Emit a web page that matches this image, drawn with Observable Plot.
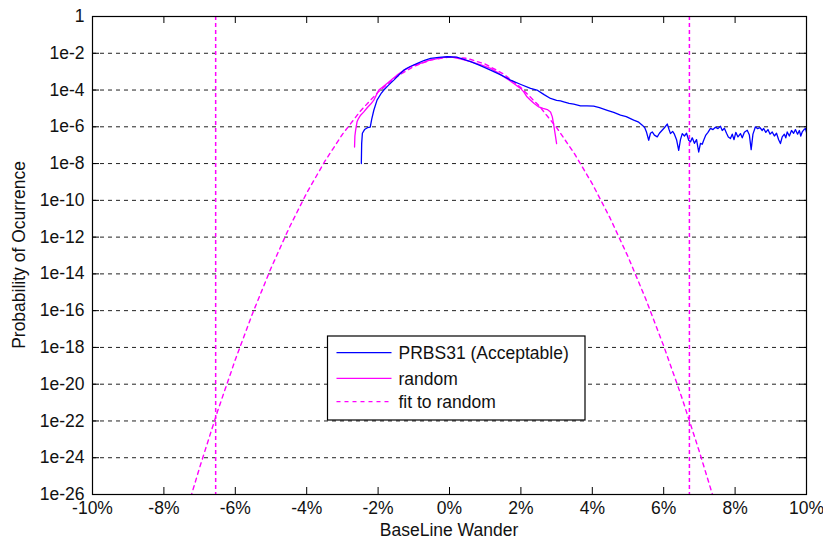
<!DOCTYPE html>
<html>
<head>
<meta charset="utf-8">
<script src="https://cdn.jsdelivr.net/npm/d3@7"></script>
<script src="https://cdn.jsdelivr.net/npm/@observablehq/plot@0.6"></script>
<style>
  html, body { margin: 0; padding: 0; background: #fff; }
  #chart { width: 823px; height: 543px; }
</style>
</head>
<body>
<div id="chart"></div>
<script>
// ---- data (x in %, y as log10 of probability) ----
const prbsX = [-2.47,-2.46,-2.44,-2.38,-2.30,-2.22,-2.18,-2.12,-2.03,-1.92,-1.84,-1.70,-1.56,-1.42,-1.28,-1.10,-0.90,-0.70,-0.53,-0.30,-0.06,0.20,0.40,0.59,0.85,1.15,1.45,1.71,2.00,2.27,2.45,2.65,2.83,3.00,3.11,3.20,3.35,3.48,3.67,3.85,4.04,4.20,4.42,4.60,4.79,4.95,5.16,5.30,5.40,5.47,5.52,5.58,5.63,5.68,5.74,5.82,5.88,5.95,6.02,6.10,6.15,6.19,6.25,6.30,6.36,6.42,6.47,6.52,6.58,6.64,6.70,6.75,6.80,6.86,6.92,6.98,7.03,7.08,7.12,7.18,7.24,7.31,7.38,7.45,7.52,7.59,7.64,7.70,7.76,7.81,7.87,7.92,7.97,8.02,8.08,8.15,8.20,8.26,8.34,8.40,8.45,8.50,8.57,8.63,8.70,8.76,8.80,8.86,8.92,8.98,9.04,9.10,9.16,9.22,9.27,9.32,9.38,9.42,9.46,9.52,9.58,9.64,9.69,9.75,9.80,9.84,9.88,9.93,9.97,10.0];
const prbsLog = [-8.0,-6.9,-6.35,-6.15,-6.05,-6.02,-5.6,-5.1,-4.55,-4.2,-4.0,-3.72,-3.46,-3.18,-2.92,-2.72,-2.55,-2.38,-2.28,-2.22,-2.19,-2.21,-2.33,-2.46,-2.66,-2.92,-3.19,-3.46,-3.70,-3.91,-4.0,-4.25,-4.46,-4.56,-4.59,-4.64,-4.72,-4.77,-4.86,-4.86,-4.88,-4.96,-5.10,-5.22,-5.37,-5.45,-5.64,-5.75,-5.91,-6.05,-6.3,-6.73,-6.35,-6.28,-6.45,-6.55,-6.35,-6.20,-6.05,-5.85,-6.15,-6.37,-6.25,-6.4,-6.7,-7.28,-6.7,-6.37,-6.5,-6.35,-6.73,-6.82,-6.6,-6.9,-6.7,-7.37,-6.9,-6.95,-6.73,-6.45,-6.3,-6.09,-6.15,-6.02,-6.1,-5.97,-6.2,-6.08,-6.35,-6.55,-6.64,-6.4,-6.7,-6.3,-6.55,-6.37,-6.6,-6.3,-6.19,-6.45,-7.24,-6.4,-6.0,-6.1,-6.05,-6.2,-6.09,-6.3,-6.15,-6.4,-6.28,-6.5,-6.35,-6.7,-6.91,-6.55,-6.4,-6.6,-6.28,-6.5,-6.2,-6.35,-6.15,-6.4,-6.2,-6.5,-6.28,-6.15,-6.09,-6.3];

const randX = [-2.66,-2.65,-2.63,-2.59,-2.55,-2.49,-2.40,-2.30,-2.20,-2.12,-1.98,-1.88,-1.75,-1.60,-1.47,-1.33,-1.19,-1.00,-0.81,-0.60,-0.44,-0.20,0.03,0.30,0.59,0.90,1.15,1.35,1.52,1.66,1.80,1.99,2.08,2.17,2.27,2.38,2.50,2.62,2.74,2.83,2.88,2.92,2.96,3.00];
const randLog = [-7.10,-6.5,-6.19,-5.73,-5.55,-5.37,-5.19,-4.95,-4.75,-4.55,-4.0,-3.85,-3.64,-3.40,-3.19,-3.0,-2.82,-2.65,-2.55,-2.40,-2.33,-2.24,-2.19,-2.30,-2.46,-2.65,-2.82,-3.05,-3.28,-3.45,-3.64,-3.91,-4.1,-4.37,-4.55,-4.75,-4.92,-5.0,-5.06,-5.19,-5.46,-5.91,-6.4,-6.91];

const fitX = [-7.25,-7.0,-6.5,-6.0,-5.5,-5.0,-4.5,-4.0,-3.5,-3.0,-2.5,-2.0,-1.5,-1.0,-0.5,0.0,0.5,1.0,1.5,2.0,2.5,3.0,3.5,4.0,4.5,5.0,5.5,6.0,6.5,7.0,7.4];
const fitLog = [-26.15,-24.54,-21.49,-18.67,-16.07,-13.69,-11.53,-9.60,-7.90,-6.41,-5.15,-4.11,-3.30,-2.71,-2.35,-2.20,-2.28,-2.59,-3.11,-3.87,-4.84,-6.04,-7.46,-9.10,-10.97,-13.06,-15.38,-17.92,-20.68,-23.67,-26.22];

const limits = [-6.55, 6.72];

const xTicks = [-10,-8,-6,-4,-2,0,2,4,6,8,10];
const yExps = [0,-2,-4,-6,-8,-10,-12,-14,-16,-18,-20,-22,-24,-26];

const seriesNames = ["PRBS31 (Acceptable)", "random", "fit to random"];
const xLabel = "BaseLine Wander";
const yLabel = "Probability of Ocurrence";

// ---- build tables ----
const prbs = prbsX.map((x, i) => ({x, y: 10 ** prbsLog[i]}));
const rand = randX.map((x, i) => ({x, y: 10 ** randLog[i]}));
const fit = fitX.map((x, i) => ({x, y: 10 ** fitLog[i]}));
const yTicks = yExps.map(e => 10 ** e);

const W = 823, H = 543;
const mL = 92, mR = 17, mT = 16, mB = 49;
const pw = W - mL - mR, ph = H - mT - mB;
const tickLen = 7;
const font = "'Liberation Sans', Arial, sans-serif";
const yFmt = d => { const e = Math.round(Math.log10(d)); return e === 0 ? "1" : "1e" + e; };

const plot = Plot.plot({
  width: W, height: H,
  marginLeft: mL, marginRight: mR, marginTop: mT, marginBottom: mB,
  style: {fontFamily: font, fontSize: "17.5px", color: "#111", background: "#fff"},
  x: {domain: [-10, 10], ticks: xTicks, tickFormat: d => d + "%", label: null},
  y: {type: "log", domain: [1e-26, 1], ticks: yTicks, tickFormat: yFmt, label: null},
  marks: [
    Plot.ruleY(yTicks, {stroke: "#222", strokeWidth: 1, strokeDasharray: "4,4"}),
    Plot.axisX({ticks: xTicks, tickSize: 0, tickPadding: 7, tickFormat: d => d + "%", fontSize: 17.5}),
    Plot.axisY({ticks: yTicks, tickSize: 0, tickPadding: 8, tickFormat: yFmt, fontSize: 17.5}),
    // inward ticks on all four sides
    Plot.tickX(xTicks, {x: d => d, insetTop: ph - tickLen, stroke: "#000"}),
    Plot.tickX(xTicks, {x: d => d, insetBottom: ph - tickLen, stroke: "#000"}),
    Plot.tickY(yTicks, {y: d => d, insetRight: pw - tickLen, stroke: "#000"}),
    Plot.tickY(yTicks, {y: d => d, insetLeft: pw - tickLen, stroke: "#000"}),
    Plot.ruleX(limits, {stroke: "#ff00ff", strokeWidth: 1.5, strokeDasharray: "4,3"}),
    Plot.line(fit, {x: "x", y: "y", stroke: "#ff00ff", strokeWidth: 1.4, strokeDasharray: "4,4", clip: true}),
    Plot.line(rand, {x: "x", y: "y", stroke: "#ff00ff", strokeWidth: 1.3, clip: true}),
    Plot.line(prbs, {x: "x", y: "y", stroke: "#0000ff", strokeWidth: 1.3, clip: true}),
    Plot.frame({stroke: "#000", strokeWidth: 1.2})
  ]
});

document.getElementById("chart").appendChild(plot);

// ---- axis titles and legend ----
const svg = d3.select(plot);
svg.append("text")
  .attr("x", mL + pw / 2).attr("y", H - 7)
  .attr("text-anchor", "middle")
  .style("font-family", font).style("font-size", "17.5px").attr("fill", "#111")
  .text(xLabel);
svg.append("text")
  .attr("transform", `translate(${25},${mT + ph / 2}) rotate(-90)`)
  .attr("text-anchor", "middle")
  .style("font-family", font).style("font-size", "17.5px").attr("fill", "#111")
  .text(yLabel);

const lg = svg.append("g").attr("transform", "translate(327.5,336)");
lg.append("rect").attr("width", 257.5).attr("height", 84)
  .attr("fill", "#fff").attr("stroke", "#000").attr("stroke-width", 1.2);
const lgStyles = [
  {stroke: "#0000ff", dash: null},
  {stroke: "#ff00ff", dash: null},
  {stroke: "#ff00ff", dash: "4,4"}
];
const lgY = [16.7, 42.3, 65.7];
seriesNames.forEach((name, i) => {
  const l = lg.append("line").attr("x1", 9).attr("x2", 64).attr("y1", lgY[i]).attr("y2", lgY[i])
    .attr("stroke", lgStyles[i].stroke).attr("stroke-width", 1.3);
  if (lgStyles[i].dash) l.attr("stroke-dasharray", lgStyles[i].dash);
  lg.append("text").attr("x", 71).attr("y", lgY[i]).attr("dy", "0.36em")
    .attr("text-anchor", "start")
    .style("font-family", font).style("font-size", "17.5px").attr("fill", "#111")
    .text(name);
});
</script>
</body>
</html>
